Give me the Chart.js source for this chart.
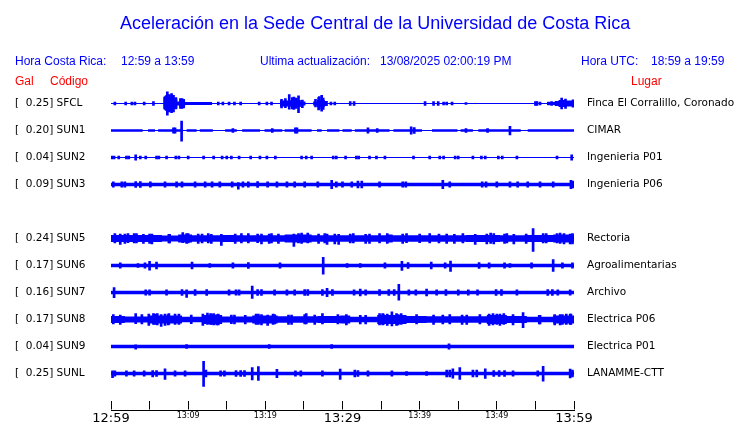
<!DOCTYPE html>
<html>
<head>
<meta charset="utf-8">
<script src="https://cdn.jsdelivr.net/npm/chart.js@4.4.1/dist/chart.umd.min.js"></script>
<style>
  body { margin: 0; background: #fff; }
  #wrap { position: relative; width: 740px; height: 423px; }
  .t { position: absolute; white-space: pre; font-family: "Liberation Sans", Arial, sans-serif;
       font-size: 12px; line-height: 12px; color: #0000ff; }
  .red { color: #ff0000; }
</style>
</head>
<body>
<div id="wrap">
  <canvas id="sismo" width="740" height="423"></canvas>
  <div class="t" style="left:120px;top:14px;font-size:18px;line-height:18px">Aceleración en la Sede Central de la Universidad de Costa Rica</div>
  <div class="t" style="left:15px;top:55px">Hora Costa Rica:</div>
  <div class="t" style="left:121px;top:55px">12:59 a 13:59</div>
  <div class="t" style="left:260px;top:55px">Ultima actualización:</div>
  <div class="t" style="left:380px;top:55px">13/08/2025 02:00:19 PM</div>
  <div class="t" style="left:581px;top:55px">Hora UTC:</div>
  <div class="t" style="left:651px;top:55px">18:59 a 19:59</div>
  <div class="t red" style="left:15px;top:75px">Gal</div>
  <div class="t red" style="left:50px;top:75px">Código</div>
  <div class="t red" style="left:631px;top:75px">Lugar</div>
</div>
<script>
// estaciones (null = canal sin datos)
const codes  = ['SFCL', 'SUN1', 'SUN2', 'SUN3', null, 'SUN5', 'SUN6', 'SUN7', 'SUN8', 'SUN9', 'SUNL'];
const galMax = [0.25, 0.20, 0.04, 0.09, null, 0.24, 0.17, 0.16, 0.17, 0.04, 0.25];
const places = ['Finca El Corralillo, Coronado', 'CIMAR', 'Ingenieria P01', 'Ingenieria P06', null,
                'Rectoria', 'Agroalimentarias', 'Archivo', 'Electrica P06', 'Electrica P01', 'LANAMME-CTT'];
// eje de tiempo: minutos desde las 12:59
const timeLabels = ['12:59', '', '13:09', '', '13:19', '', '13:29', '', '13:39', '', '13:49', '', '13:59'];
const majorMinutes = [0, 30, 60];

// envolvente: [minuto, amplitud % de escala] (vale hasta el siguiente punto)
// picos: [minuto, % arriba, % abajo]
const envSFCL = [[0,4],[6.9,26],[7.4,44],[8.0,37],[8.6,15],[8.9,30],[9.6,11],[13.1,4],[21.9,22],[23.3,26],
  [24.6,15],[25.2,4],[26.2,15],[26.7,26],[27.7,19],[28.1,4],[56.5,11],[57.5,19],[58.0,26],[59.0,22],[59.7,30],[60,30]];
const spkSFCL = [[7.0,52,44],[7.3,87,87],[7.85,74,67],[8.1,60,63],[9.2,37,37],[23.1,67,42],[23.7,48,44],
  [24.3,57,67],[26.9,44,48],[27.3,61,57],[58.4,41,41],[58.9,33,37],
  [6.95,44,37],[7.15,59,52],[7.55,67,63],[7.7,59,56],[8.0,52,59],[8.4,44,41],[9.0,37,37],[9.4,30,33],
  [22.1,30,33],[22.6,37,30],[23.5,44,41],[24.0,41,37],[24.8,26,30],[26.5,30,26],[27.0,52,41],[27.5,41,44],
  [0.5,11,11],[1.9,11,11],[2.7,11,11],[3.1,11,11],[4.3,11,11],[5.5,15,15],[13.9,11,11],[14.5,11,11],
  [15.3,11,11],[16.0,11,11],[16.8,11,11],[19.2,11,11],[20.2,11,11],[20.8,11,11],[28.5,11,11],[29.0,11,11],
  [31.0,15,15],[31.5,15,15],[40.7,15,15],[41.8,15,15],[42.4,15,15],[43.1,11,11],[43.5,11,11],[44.2,11,11],
  [46.0,7,7],[55.0,15,15],[55.2,15,15],[55.6,11,11],[56.7,11,11],[57.1,15,15]];

const envSUN1 = [[0,10],[4.1,4],[4.8,10],[5.7,4],[6.1,10],[9.3,4],[9.8,10],[11.1,4],[11.5,10],[13.2,4],[14.8,10],
  [16.3,4],[17.0,10],[19.3,4],[19.9,10],[22.2,4],[22.5,10],[26.0,4],[26.7,10],[27.3,4],[28.0,10],[29.6,4],
  [30.0,10],[31.2,4],[31.6,10],[36.1,4],[36.6,10],[40.3,4],[41.6,10],[44.9,4],[45.3,10],[46.9,4],[47.6,10],
  [53.1,4],[54.0,10],[60,10]];
const spkSUN1 = [[9.15,69,79],[8.1,20,20],[8.3,20,20],[23.9,19,19],[24.1,19,19],[38.9,27,27],[39.3,22,22],
  [51.7,30,33],[15.8,15,15],[20.9,15,15],[34.5,15,15],[46.0,15,15],[33.3,19,19],[48.8,15,15]];

const envSUN2 = [[0,4],[60,4]];
const spkSUN2 = [[0.1,10,10],[0.4,10,10],[1.0,10,10],[2.0,10,10],[2.3,10,10],[3.2,19,19],[3.8,10,10],[4.5,10,10],
  [5.9,10,10],[6.2,10,10],[7.2,10,10],[8.4,10,10],[8.8,10,10],[10.0,10,10],[12.0,10,10],[13.3,10,10],[14.4,10,10],
  [15.0,10,10],[15.6,10,10],[16.6,10,10],[18.1,10,10],[19.3,10,10],[20.2,10,10],[21.3,10,10],[24.7,10,10],
  [25.3,10,10],[26.0,10,10],[28.8,10,10],[29.2,10,10],[30.4,10,10],[31.8,10,10],[32.1,10,10],[33.5,10,10],
  [34.4,10,10],[35.5,10,10],[39.2,10,10],[41.3,10,10],[42.6,10,10],[43.1,10,10],[44.6,10,10],[45.0,10,10],
  [46.9,10,10],[48.0,10,10],[48.5,10,10],[50.2,10,10],[50.7,10,10],[52.6,10,10],[57.8,10,10],[59.7,19,19]];

const envSUN3 = [[0,13],[60,13]];
const spkSUN3 = [[3.2,22,22],[3.8,22,22],[16.5,15,35],[19.0,22,22],[25.1,19,19],[28.6,30,30],[29.2,19,19],
  [32.0,26,26],[32.5,26,26],[34.8,19,19],[37.8,19,19],[38.2,19,19],[43.0,30,30],[43.9,19,19],[48.1,19,19],
  [48.6,19,19],[59.6,30,30],[59.9,26,26],[0.3,19,19],[1.4,19,19],[1.8,19,19],[5.1,19,19],[7.0,19,19],
  [8.5,19,19],[9.2,19,19],[10.9,19,19],[12.2,19,19],[13.1,19,19],[14.1,19,19],[15.7,19,19],[17.1,19,19],
  [17.8,19,19],[20.3,19,19],[21.5,19,19],[22.8,19,19],[23.8,19,19],[26.8,19,19],[30.0,19,19],[31.2,19,19],
  [50.0,19,19],[51.7,19,19],[52.7,19,19],[54.0,19,19],[55.6,19,19],[57.3,19,19]];

const envSUN5 = [[0,26],[6.6,22],[8.7,30],[10.5,24],[14.4,26],[16.1,24],[22.5,30],[26.0,24],[35.7,30],[36.5,24],
  [46.0,26],[50.4,24],[53.9,26],[57.3,30],[60,30]];
const spkSUN5 = [[1.2,33,44],[3.0,37,33],[5.0,33,37],[9.3,44,30],[9.8,37,37],[14.3,30,52],[17.8,37,33],
  [20.5,33,37],[23.7,33,59],[25.5,41,33],[28.0,33,44],[29.5,30,44],[35.8,37,37],[40.0,33,30],[47.2,30,44],
  [49.2,41,37],[49.6,37,41],[52.2,30,41],[54.7,74,96],[57.8,37,33],[59.5,33,41],[2.2,37,30],[4.2,30,37],
  [7.5,30,33],[11.8,33,33],[13.0,30,37],[19.0,33,30],[24.3,37,33],[31.0,33,33],[33.0,30,37],[38.3,37,30],
  [42.5,33,33],[44.5,30,37],[51.0,33,37],[56.0,37,33],[58.7,37,41],
  [0.5,37,33],[1.8,33,37],[3.3,37,33],[5.3,33,41],[7.6,30,33],[10.0,37,33],[11.3,33,37],[12.6,37,33],
  [16.1,33,37],[16.9,37,33],[19.5,33,41],[20.8,37,33],[21.7,33,37],[24.7,41,37],[26.9,33,37],[27.7,37,33],
  [29.0,33,41],[31.4,37,33],[33.5,33,37],[34.8,37,33],[37.8,33,37],[41.3,37,33],[43.5,33,37],[45.6,37,33],
  [48.7,33,41],[51.3,37,33],[53.8,33,37],[56.4,37,33],[58.2,41,37],[59.8,37,41]];

const envSUN6 = [[0,13],[60,13]];
const spkSUN6 = [[1.2,19,19],[3.5,15,15],[4.4,19,19],[5.0,30,35],[5.9,26,26],[10.5,26,26],[12.8,15,15],
  [15.8,19,19],[17.8,22,22],[21.9,19,19],[27.5,61,64],[30.6,15,15],[32.3,15,15],[35.5,19,19],[37.7,30,37],
  [38.5,22,22],[41.5,26,26],[43.3,19,19],[44.0,33,44],[47.7,22,22],[49.0,19,19],[51.0,19,19],[51.7,15,15],
  [54.5,19,19],[57.3,44,44],[58.5,19,19],[59.8,19,19]];

const envSUN7 = [[0,13],[60,13]];
const spkSUN7 = [[0.4,37,39],[4.5,19,19],[5.0,19,19],[7.2,19,19],[9.2,22,22],[9.8,19,37],[10.9,22,22],
  [12.4,22,22],[15.3,19,19],[16.2,19,19],[16.6,19,19],[18.3,47,44],[19.0,22,22],[19.5,22,22],[21.2,19,19],
  [22.8,19,19],[23.8,19,19],[25.1,22,22],[25.5,22,22],[27.4,22,22],[28.0,30,30],[28.7,22,22],[31.5,19,19],
  [32.3,26,26],[33.0,19,19],[34.8,22,22],[36.0,22,22],[36.7,22,22],[37.3,61,57],[38.6,19,19],[39.5,19,19],
  [40.9,26,26],[42.2,19,19],[43.4,22,22],[45.0,19,19],[46.3,19,19],[47.5,19,19],[49.9,22,22],[50.6,22,22],
  [52.6,19,19],[56.6,22,22],[57.2,22,22],[57.9,19,19],[59.5,19,19]];

const envSUN8 = [[0,26],[1.8,22],[4.8,30],[9.2,20],[11.8,33],[14.4,22],[18.3,30],[21.6,24],[26.8,26],[29.7,30],
  [31.0,20],[34.5,33],[38.3,26],[40.9,24],[48.7,33],[51.3,26],[53.9,20],[57.3,30],[60,30]];
const spkSUN8 = [[3.2,44,30],[5.5,44,37],[6.5,37,52],[7.5,44,37],[8.3,41,37],[12.5,47,37],[13.3,44,41],
  [16.0,33,33],[20.3,33,44],[23.0,33,37],[25.3,44,33],[27.4,44,33],[33.0,30,33],[35.2,44,41],[36.4,57,47],
  [37.0,44,44],[43.0,33,33],[45.5,33,37],[49.5,44,41],[50.4,41,44],[53.4,52,61],[55.5,30,33],[58.5,37,37],
  [59.6,41,37],[4.9,41,44],[6.0,44,41],[7.0,41,44],[8.8,41,37],[11.9,41,44],[12.9,44,37],[13.9,41,41],
  [18.8,41,37],[19.5,37,41],[21.0,41,37],[34.8,44,41],[35.8,41,44],[37.6,44,37],[49.0,41,44],[50.9,44,37],
  [57.5,37,41],[59.0,41,37],
  [0.3,37,33],[1.2,33,37],[4.0,37,33],[5.7,41,37],[7.4,37,41],[10.4,33,30],[13.0,41,37],[13.7,37,41],
  [15.6,33,30],[17.4,30,33],[19.1,41,37],[21.2,37,33],[23.4,33,37],[25.1,37,33],[26.4,33,37],[29.4,37,33],
  [30.5,37,41],[32.3,30,33],[35.3,41,37],[37.2,37,41],[39.6,37,33],[41.8,33,37],[43.9,37,33],[46.1,33,37],
  [47.8,37,33],[50.0,41,37],[52.1,37,41],[55.6,30,33],[58.2,37,41],[59.5,41,37]];

const envSUN9 = [[0,13],[60,13]];
const spkSUN9 = [[3.2,13,19],[9.8,15,15],[20.5,15,15],[28.6,15,15],[43.8,19,19]];

const envSUNL = [[0,13],[60,13]];
const spkSUNL = [[0.2,19,30],[0.5,19,19],[2.0,19,19],[3.0,19,19],[4.3,19,19],[5.4,22,26],[5.9,22,22],
  [7.0,35,44],[8.3,19,19],[9.6,19,19],[12.0,91,96],[12.3,26,26],[14.2,19,19],[14.7,19,19],[16.2,22,22],
  [16.8,22,22],[17.3,22,22],[18.3,44,47],[19.1,52,52],[21.5,30,30],[23.9,19,19],[24.6,19,19],[27.4,19,19],
  [29.7,33,44],[31.6,26,26],[32.0,22,22],[33.3,19,19],[36.4,19,19],[38.3,15,15],[40.9,15,15],[43.5,26,26],
  [43.9,26,26],[44.3,35,35],[45.2,44,44],[46.9,26,26],[47.4,26,26],[48.5,35,37],[49.6,22,22],[50.3,22,22],
  [51.0,22,22],[52.1,19,19],[55.3,19,19],[56.0,54,57],[59.5,33,33],[59.8,26,26]];

const envelopes = [envSFCL, envSUN1, envSUN2, envSUN3, null, envSUN5, envSUN6, envSUN7, envSUN8, envSUN9, envSUNL];
const spikes    = [spkSFCL, spkSUN1, spkSUN2, spkSUN3, null, spkSUN5, spkSUN6, spkSUN7, spkSUN8, spkSUN9, spkSUNL];

const BLUE = '#0000ff';
const lineStyle = { type: 'line', stepped: true, pointRadius: 0, borderWidth: 0,
                    borderColor: BLUE, backgroundColor: BLUE, tension: 0 };

const datasets = [];
codes.forEach((code, i) => {
  if (!code) return;
  const row = i + 1;   // cada canal ocupa una franja de una unidad
  datasets.push({ ...lineStyle, fill: false,
    data: envelopes[i].map(([t, a]) => ({ x: t, y: row - a / 200 })) });
  datasets.push({ ...lineStyle, fill: '-1',
    data: envelopes[i].map(([t, a]) => ({ x: t, y: row + a / 200 })) });
  datasets.push({ type: 'bar', grouped: false, barThickness: 2, borderWidth: 0, backgroundColor: BLUE,
    data: spikes[i].map(([t, up, down]) => ({ x: t, y: [row - up / 200, row + down / 200] })) });
});

const rowTicks = codes.map((c, i) => c ? { value: i + 1 } : null).filter(Boolean);

const axisLine = {
  id: 'axisLine',
  afterDraw(chart) {
    const { ctx, chartArea } = chart;
    const y = Math.round(chartArea.bottom + 9) + 0.5;
    ctx.save();
    ctx.strokeStyle = '#000';
    ctx.lineWidth = 1;
    ctx.beginPath();
    ctx.moveTo(chartArea.left, y);
    ctx.lineTo(chartArea.right + 1, y);
    ctx.stroke();
    ctx.restore();
  }
};

new Chart(document.getElementById('sismo'), {
  type: 'line',
  data: { datasets },
  plugins: [axisLine],
  options: {
    responsive: false,
    animation: false,
    layout: { padding: { top: 76.5, left: 15, right: 0, bottom: 0 } },
    plugins: { legend: { display: false }, tooltip: { enabled: false } },
    scales: {
      x: {
        type: 'linear', min: 0, max: 60, offset: false,
        grid: { drawOnChartArea: false, offset: false, tickLength: 9, color: '#000', lineWidth: 1 },
        border: { display: false },
        afterFit: s => { s.height = 22.5; },
        ticks: {
          stepSize: 5, autoSkip: false, maxRotation: 0, padding: 1.5, color: '#000',
          callback: (v, i) => timeLabels[i],
          font: c => majorMinutes.includes(c.tick && c.tick.value)
            ? { family: 'DejaVu Sans', size: 13, lineHeight: 15 / 13 }
            : { family: 'DejaVu Sans', size: 8, lineHeight: 10 / 8 }
        }
      },
      y: {
        type: 'linear', reverse: true, min: 0, max: 12,
        grid: { display: false }, border: { display: false },
        afterFit: s => { s.width = 96; },
        afterBuildTicks: s => { s.ticks = rowTicks.map(t => ({ ...t })); },
        ticks: {
          autoSkip: false, crossAlign: 'far', color: '#000',
          font: { family: 'DejaVu Sans', size: 10.5 },
          callback: v => '[  ' + galMax[v - 1].toFixed(2) + '] ' + codes[v - 1]
        }
      },
      y2: {
        type: 'linear', position: 'right', reverse: true, min: 0, max: 12,
        grid: { display: false, drawTicks: false }, border: { display: false },
        afterFit: s => { s.width = 166; },
        afterBuildTicks: s => { s.ticks = rowTicks.map(t => ({ ...t })); },
        ticks: {
          autoSkip: false, padding: 13, color: '#000',
          font: { family: 'DejaVu Sans', size: 10.5 },
          callback: v => places[v - 1]
        }
      }
    }
  }
});
</script>
</body>
</html>
